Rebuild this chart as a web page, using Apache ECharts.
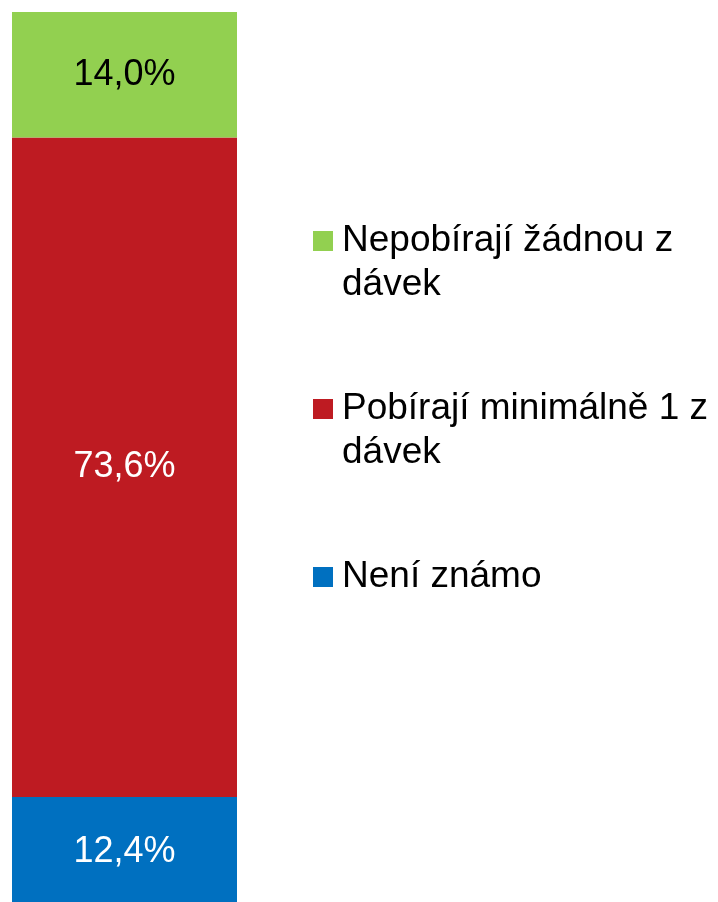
<!DOCTYPE html>
<html>
<head>
<meta charset="utf-8">
<script src="https://cdn.jsdelivr.net/npm/echarts@6/dist/echarts.min.js"></script>
<style>
  html, body { margin: 0; padding: 0; background: #fff; }
  #chart { width: 718px; height: 902px; }
</style>
</head>
<body>
<div id="chart"></div>
<script>
// data
var categories = ['']
var seriesNames = ['Nepobírají žádnou z dávek', 'Pobírají minimálně 1 z dávek', 'Není známo']
var seriesValues = [14.0, 73.6, 12.4]
var seriesColors = ['#92D050', '#BE1B22', '#0070C0']
var labelColors = ['#000000', '#ffffff', '#ffffff']
// legend text as it wraps in the original
var legendLines = [['Nepobírají žádnou z', 'dávek'], ['Pobírají minimálně 1 z', 'dávek'], ['Není známo']]
// stacking order from bottom up
var stackOrder = [2, 1, 0]

var font = 'Liberation Sans, Arial, sans-serif'
var lineH = 44

var myChart = echarts.init(document.getElementById('chart'), null, { renderer: 'canvas' })

var series = stackOrder.map(function(i) {
  return {
    name: seriesNames[i],
    type: 'bar',
    stack: 'total',
    barWidth: '100%',
    data: [seriesValues[i]],
    itemStyle: { color: seriesColors[i] },
    label: {
      show: true,
      position: 'inside',
      color: labelColors[i],
      fontFamily: font,
      fontSize: 36,
      formatter: function(p) {
        return p.value.toFixed(1).replace('.', ',') + '%'
      }
    }
  }
})

var option = {
  animation: false,
  // bar runs a bit past the bottom edge of the picture
  grid: { left: 12, top: 12, width: 225, height: 896, outerBoundsMode: 'none' },
  xAxis: {
    type: 'category',
    data: categories,
    show: false
  },
  yAxis: {
    type: 'value',
    min: 0,
    max: 100,
    show: false
  },
  legend: {
    orient: 'vertical',
    left: 313,
    top: 175,
    padding: 0,
    itemWidth: 24,
    itemHeight: 20,
    itemGap: 36,
    // 20px square plus a little blank space before the text
    icon: 'path://M0,0H20V20H0Z M24,20L24,20',
    data: seriesNames,
    // first line sits level with the icon: pad the block so that line is the middle one
    formatter: function(name) {
      var lines = legendLines[seriesNames.indexOf(name)]
      return '\n' + lines.join('\n') + (lines.length === 1 ? '\n' : '')
    },
    textStyle: {
      color: '#000',
      fontFamily: font,
      fontSize: 37,
      lineHeight: lineH
    }
  },
  series: series
}

option && myChart.setOption(option)
</script>
</body>
</html>
